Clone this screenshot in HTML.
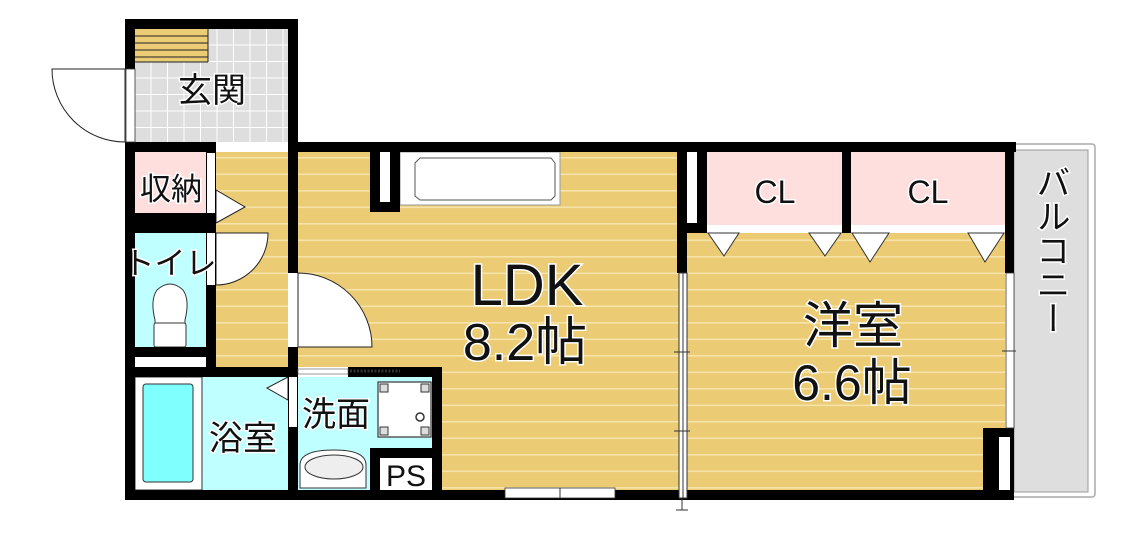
<!DOCTYPE html>
<html><head><meta charset="utf-8"><style>
html,body{margin:0;padding:0;background:#fff;width:1144px;height:535px;overflow:hidden}
text{font-family:"Liberation Sans","Noto Sans CJK JP",sans-serif}
</style></head><body>
<svg width="1144" height="535" viewBox="0 0 1144 535" xmlns="http://www.w3.org/2000/svg">
<defs>
<pattern id="fl" x="0" y="150" width="20" height="16.5" patternUnits="userSpaceOnUse">
<rect width="20" height="16.5" fill="#ebcb74"/><rect y="7" width="20" height="1.6" fill="#f6e3aa"/>
</pattern>
<pattern id="tile" x="135" y="29" width="16.5" height="16.5" patternUnits="userSpaceOnUse">
<rect width="16.5" height="16.5" fill="#dedede"/><rect x="15.5" width="1.2" height="16.5" fill="#fff"/><rect y="15.5" width="16.5" height="1.2" fill="#fff"/>
</pattern>
</defs>
<rect x="1010" y="144" width="85" height="353" rx="3" fill="#fff" stroke="#aaa" stroke-width="1.5"/>
<rect x="1014" y="150" width="74" height="342" fill="#dedede" stroke="#999" stroke-width="1"/>
<rect x="135" y="29" width="153" height="113" fill="url(#tile)"/>
<rect x="135" y="29" width="73" height="33" fill="#ebcb74"/>
<g stroke="#222" stroke-width="1"><line x1="135" y1="36" x2="208" y2="36"/><line x1="135" y1="43" x2="208" y2="43"/><line x1="135" y1="50" x2="208" y2="50"/><line x1="135" y1="57" x2="208" y2="57"/><line x1="135" y1="62" x2="208" y2="62"/><line x1="208" y1="29" x2="208" y2="62"/></g>
<rect x="216" y="152" width="72" height="215" fill="url(#fl)"/>
<rect x="298" y="152" width="384" height="338" fill="url(#fl)"/>
<rect x="687" y="152" width="318" height="338" fill="url(#fl)"/>
<rect x="135" y="152" width="72" height="71" fill="#ffdede"/>
<rect x="135" y="233" width="72" height="114" fill="#c0ffff"/>
<rect x="135" y="357" width="72" height="10" fill="#fff"/>
<rect x="135" y="377" width="153" height="113" fill="#c0ffff"/>
<rect x="298" y="377" width="134" height="113" fill="#c0ffff"/>
<rect x="707" y="152" width="135" height="73" fill="#ffdede"/>
<rect x="851" y="152" width="154" height="73" fill="#ffdede"/>
<rect x="707" y="225" width="298" height="8" fill="#fff"/>
<g fill="#fff" stroke="#333" stroke-width="1">
<polygon points="708,233 739,233 724,256"/><polygon points="809,233 841,233 825,256"/>
<polygon points="852,233 889,233 870,262"/><polygon points="968,233 1004,233 985,262"/>
</g>
<rect x="135" y="377" width="67" height="113" fill="#fff" stroke="#333" stroke-width="1"/>
<rect x="143" y="384" width="50" height="98" rx="3" fill="#80ffff" stroke="#333" stroke-width="1"/>
<path d="M155 347 L155 320 Q150 300 157 290 Q170 278 183 290 Q190 300 185 320 L185 347 Z" fill="#fff" stroke="#333" stroke-width="1"/>
<rect x="154" y="323" width="32" height="24" rx="2" fill="#fff" stroke="#333" stroke-width="1"/>
<rect x="378" y="382" width="53" height="55" fill="#fff" stroke="#333" stroke-width="1.2"/>
<g fill="#ddd" stroke="#333" stroke-width="1"><rect x="380" y="384" width="8" height="8"/><rect x="421" y="384" width="8" height="8"/><rect x="380" y="427" width="8" height="8"/><rect x="421" y="427" width="8" height="8"/></g>
<circle cx="420" cy="417" r="4" fill="#fff" stroke="#333" stroke-width="1.5"/>
<path d="M300 488 L300 465 Q300 450 334 450 Q366 450 366 465 L366 488 Z" fill="#fff" stroke="#333" stroke-width="1"/>
<ellipse cx="334" cy="467" rx="29" ry="12" fill="#eee" stroke="#333" stroke-width="1"/>
<rect x="400" y="152" width="160" height="53" fill="#fff" stroke="#999" stroke-width="1"/>
<path d="M420 158 H551 L555 163 V196 L551 200 H420 L415 196 V163 Z" fill="#fff" stroke="#555" stroke-width="1"/>
<g fill="#fff" stroke="#222" stroke-width="1">
<path d="M125 69 H52 A73 73 0 0 0 125 142 Z"/>
<path d="M216 233 H268 A52 52 0 0 1 216 285 Z"/>
<path d="M298 273 A74 74 0 0 1 372 347 H298 Z"/>
<polygon points="216,190 216,223 245,207"/>
<polygon points="288,377 288,400 267,388"/>
</g>
<g fill="#000">
<rect x="125" y="19" width="173" height="10"/>
<rect x="125" y="19" width="10" height="50"/>
<rect x="125" y="142" width="10" height="358"/>
<rect x="288" y="19" width="10" height="133"/>
<rect x="125" y="142" width="91" height="10"/>
<rect x="288" y="142" width="728" height="10"/>
<rect x="125" y="490" width="889" height="10"/>
<rect x="125" y="213" width="91" height="20"/>
<rect x="206" y="152" width="10" height="215"/>
<rect x="125" y="347" width="91" height="10"/>
<rect x="125" y="367" width="317" height="10"/>
<rect x="288" y="152" width="10" height="121"/>
<rect x="288" y="347" width="10" height="143"/>
<rect x="432" y="367" width="10" height="123"/>
<rect x="370" y="448" width="72" height="10"/>
<rect x="370" y="448" width="10" height="42"/>
<rect x="370" y="152" width="30" height="60"/>
<rect x="677" y="142" width="30" height="91"/>
<rect x="677" y="142" width="10" height="131"/>
<rect x="842" y="152" width="9" height="81"/>
<rect x="1005" y="142" width="9" height="131"/>
<rect x="983" y="428" width="31" height="71"/>
</g>
<g fill="#fff">
<rect x="126" y="69" width="9" height="73" stroke="#333" stroke-width="0.8"/>
<rect x="207" y="153" width="8" height="60"/>
<rect x="207" y="233" width="8" height="52"/>
<rect x="216" y="142" width="72" height="10"/>
<rect x="289" y="273" width="8" height="74"/>
<rect x="289" y="377" width="8" height="50"/>
<rect x="298" y="367" width="50" height="10"/>
<rect x="380" y="152" width="10" height="50"/>
<rect x="687" y="152" width="10" height="71"/>
<rect x="999" y="437" width="11" height="53"/>
<rect x="380" y="458" width="52" height="32"/>
<rect x="1006" y="273" width="8" height="155" stroke="#333" stroke-width="0.8"/>
<rect x="505" y="488" width="110" height="10" stroke="#333" stroke-width="0.8"/>
</g>
<rect x="298" y="369" width="50" height="5" fill="#fff" stroke="#555" stroke-width="0.6"/>
<line x1="350" y1="371" x2="400" y2="371" stroke="#333" stroke-width="3" stroke-dasharray="2,1.5"/>
<g stroke="#333" stroke-width="1" fill="#fff">
<rect x="679" y="273" width="4" height="225"/><rect x="683" y="273" width="4" height="225"/>
<line x1="682" y1="498" x2="682" y2="510"/><line x1="676" y1="510" x2="688" y2="510"/>
<line x1="674" y1="352" x2="690" y2="352"/><line x1="674" y1="431" x2="690" y2="431"/>
<line x1="1002" y1="351" x2="1016" y2="351"/>
<line x1="560" y1="488" x2="560" y2="498"/>
</g>
<g stroke="#fff" stroke-width="3" paint-order="stroke" fill="#111" text-anchor="middle">
<text x="212" y="102" font-size="34">玄関</text>
<text x="171" y="200" font-size="31">収納</text>
<text x="170" y="274" font-size="31">トイレ</text>
<text x="243" y="450" font-size="34">浴室</text>
<text x="336" y="426" font-size="34">洗面</text>
<text x="406" y="486" font-size="30">PS</text>
<text x="775" y="203" font-size="32">CL</text>
<text x="928" y="203" font-size="32">CL</text>
<text x="527" y="305" font-size="58">LDK</text>
<text x="525" y="360" font-size="52">8.2帖</text>
<text x="853" y="343" font-size="50">洋室</text>
<text x="852" y="400" font-size="50">6.6帖</text>
<text x="1050" y="250" font-size="34" writing-mode="tb" style="writing-mode:vertical-rl">バルコニー</text>
</g>
</svg>
</body></html>
